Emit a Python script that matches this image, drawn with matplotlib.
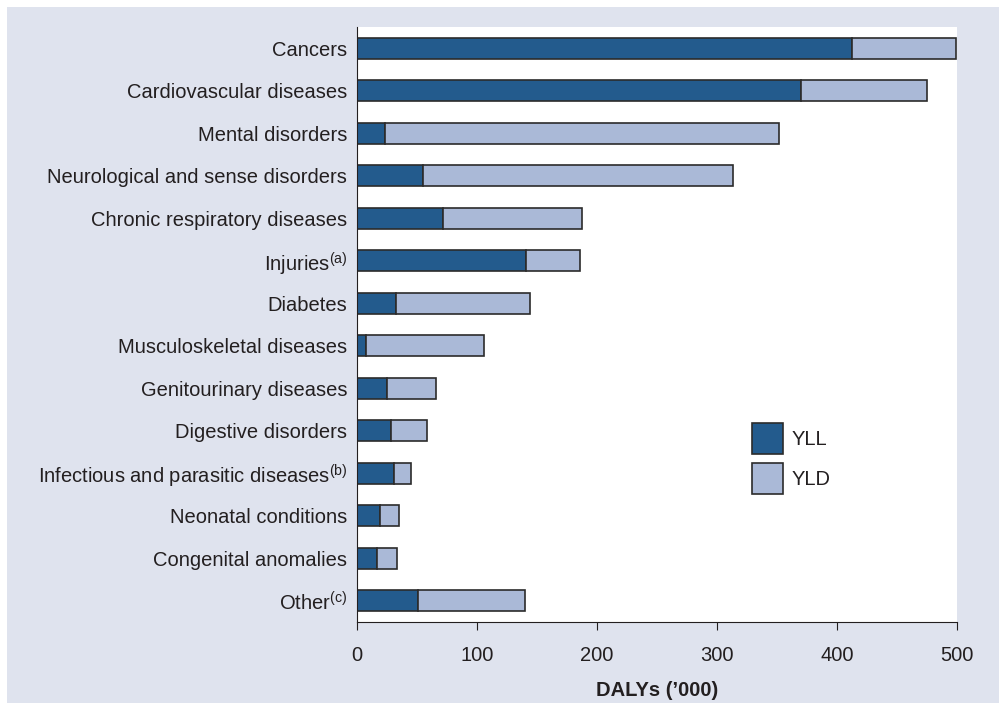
import matplotlib
matplotlib.use("Agg")
import matplotlib.pyplot as plt
from matplotlib.patches import Rectangle, Patch

plt.rcParams['font.family'] = ['Liberation Sans', 'DejaVu Sans']

# data, '000 DALYs
categories = ["Cancers", "Cardiovascular diseases", "Mental disorders",
              "Neurological and sense disorders", "Chronic respiratory diseases",
              "Injuries$^{\\mathregular{(a)}}$", "Diabetes", "Musculoskeletal diseases",
              "Genitourinary diseases", "Digestive disorders",
              "Infectious and parasitic diseases$^{\\mathregular{(b)}}$",
              "Neonatal conditions", "Congenital anomalies", "Other$^{\\mathregular{(c)}}$"]
yll = [412.7, 370.4, 23.5, 54.6, 71.6, 140.9, 32.6, 7.3, 24.6, 28.2, 31.0, 19.3, 17.0, 51.0]
total = [499.5, 474.8, 351.3, 313.4, 187.2, 185.8, 144.5, 106.0, 65.6, 58.3, 44.9, 34.9, 33.5, 140.0]
yld = [t - l for t, l in zip(total, yll)]

dark = '#235b8d'
light = '#aab9d7'
edge = '#2b2b2b'
bg = '#dfe3ee'
txt = '#231f20'
fs = 14.5

fig = plt.figure(figsize=(9.99, 7.03), dpi=100)
fig.patch.set_facecolor('white')
fig.patches.append(Rectangle((7 / 999, 0), 1, (703 - 7) / 703, transform=fig.transFigure,
                             facecolor=bg, edgecolor='none', zorder=-10))

ax = fig.add_axes([357 / 999, (703 - 622) / 703, 600 / 999, 595 / 703])
ax.set_facecolor('white')

y = list(range(len(categories)))
ax.barh(y, yll, height=0.5, color=dark, edgecolor=edge, linewidth=1.2, label='YLL')
ax.barh(y, yld, left=yll, height=0.5, color=light, edgecolor=edge, linewidth=1.2, label='YLD')

ax.set_ylim(len(categories) - 0.5, -0.5)
ax.set_xlim(0, 500)
ax.set_xticks([0, 100, 200, 300, 400, 500])
ax.set_yticks(y)
ax.set_yticklabels(categories)

for s in ['top', 'right']:
    ax.spines[s].set_visible(False)
ax.spines['left'].set_color(txt)
ax.spines['bottom'].set_color(txt)
ax.tick_params(axis='y', length=0, pad=7, labelsize=fs, labelcolor=txt)
ax.tick_params(axis='x', length=6, direction='out', color=txt, pad=11, labelsize=fs, labelcolor=txt)

ax.set_xlabel("DALYs (\u2019000)", fontsize=fs, fontweight='bold', color=txt, labelpad=12)

handles = [Patch(facecolor=dark, edgecolor=edge, linewidth=1.2),
           Patch(facecolor=light, edgecolor=edge, linewidth=1.2)]
ax.legend(handles, ['YLL', 'YLD'], loc='upper left', bbox_to_anchor=(0.658, 0.335),
          frameon=False, fontsize=fs, handlelength=1.54, handleheight=1.99,
          labelspacing=0.45, borderpad=0, borderaxespad=0, handletextpad=0.45,
          labelcolor=txt)

fig.savefig('out.png', dpi=100)
